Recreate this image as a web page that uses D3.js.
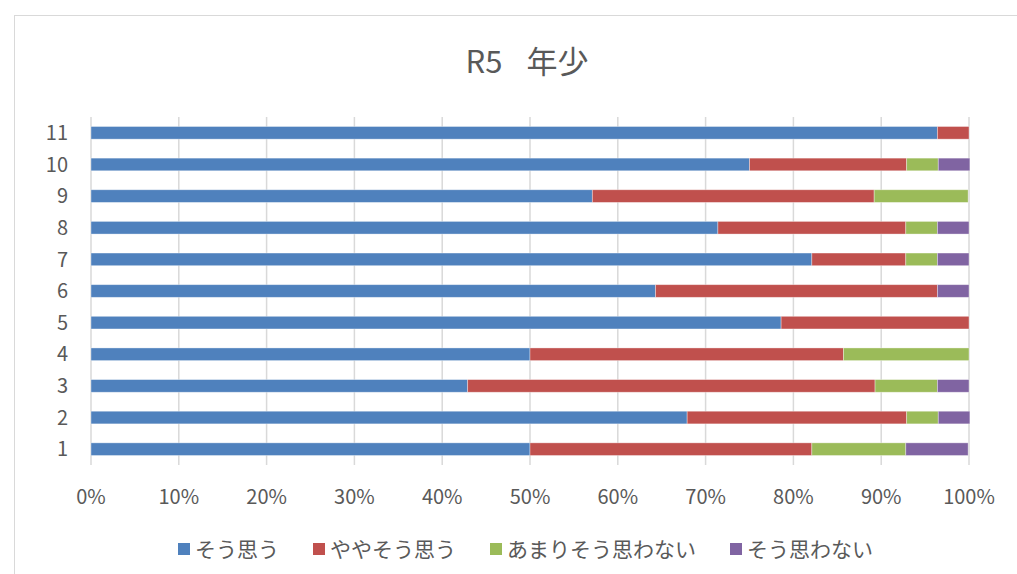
<!DOCTYPE html>
<html>
<head>
<meta charset="utf-8">
<script src="https://cdn.jsdelivr.net/npm/d3@7"></script>
<style>
  body { margin: 0; background: #fff; }
  svg { display: block; }
  text { font-family: "Noto Sans CJK JP", "Noto Sans", sans-serif; fill: #595959; }
</style>
</head>
<body>
<svg id="chart" width="1017" height="574"></svg>
<script>
// categories, bottom to top as in the picture
var categories = ['1', '2', '3', '4', '5', '6', '7', '8', '9', '10', '11'];
var seriesNames = ['そう思う', 'ややそう思う', 'あまりそう思わない', 'そう思わない'];
var colors = ['#4F81BD', '#C0504D', '#9BBB59', '#8064A2'];

// percentages per category (index matches categories)
var agree         = [50.0, 67.9, 42.9, 50.0, 78.6, 64.3, 82.1, 71.4, 57.1, 75.0, 96.4];
var somewhatAgree = [32.1, 25.0, 46.4, 35.7, 21.4, 32.1, 10.7, 21.4, 32.1, 17.9,  3.6];
var notMuch       = [10.7,  3.6,  7.1, 14.3,  0.0,  0.0,  3.6,  3.6, 10.7,  3.6,  0.0];
var disagree      = [ 7.1,  3.6,  3.6,  0.0,  0.0,  3.6,  3.6,  3.6,  0.0,  3.6,  0.0];
var xTicks = [0, 10, 20, 30, 40, 50, 60, 70, 80, 90, 100];

var svg = d3.select('#chart');

// outer chart frame (runs off the right / bottom edge)
svg.append('rect')
  .attr('x', 14.5).attr('y', 15.5)
  .attr('width', 1100).attr('height', 700)
  .attr('fill', 'none').attr('stroke', '#d9d9d9');

var title = svg.append('text')
  .attr('x', 527).attr('y', 73)
  .attr('text-anchor', 'middle')
  .style('font-size', '31px');
title.append('tspan').text('R5');
title.append('tspan').attr('dx', 24).text('年少');

var x = d3.scaleLinear().domain([0, 100]).range([91, 969]);
var y = d3.scaleBand()
  .domain(categories.slice().reverse())
  .range([117, 465])
  .paddingInner(0.6)
  .paddingOuter(0.3);

// gridlines
svg.append('g').selectAll('line')
  .data(xTicks)
  .enter().append('line')
    .attr('x1', (d) => x(d)).attr('x2', (d) => x(d))
    .attr('y1', 117).attr('y2', 465)
    .attr('stroke', '#d9d9d9').attr('stroke-width', 1.5);

var rows = categories.map((c, i) => ({
  cat: c,
  v: [agree[i], somewhatAgree[i], notMuch[i], disagree[i]]
}));
var stack = d3.stack().keys([0, 1, 2, 3]).value((d, k) => d.v[k]);
var layers = stack(rows);

svg.append('g').selectAll('g')
  .data(layers)
  .enter().append('g')
    .attr('fill', (d) => colors[d.key])
  .selectAll('rect')
  .data((d) => d)
  .enter().append('rect')
    .attr('x', (d) => x(d[0]))
    .attr('y', (d) => y(d.data.cat))
    .attr('width', (d) => Math.max(0, x(d[1]) - x(d[0])))
    .attr('height', y.bandwidth())
    .attr('stroke', (d) => d[1] - d[0] > 0 ? '#fff' : 'none')
    .attr('stroke-opacity', 0.45)
    .attr('stroke-width', 0.8);

// y labels
svg.append('g').selectAll('text')
  .data(categories)
  .enter().append('text')
    .attr('x', 68)
    .attr('y', (d) => y(d) + y.bandwidth() / 2)
    .attr('dy', '0.36em')
    .attr('text-anchor', 'end')
    .style('font-size', '20px')
    .text((d) => d);

// x labels
svg.append('g').selectAll('text')
  .data(xTicks)
  .enter().append('text')
    .attr('x', (d) => x(d))
    .attr('y', 504)
    .attr('text-anchor', 'middle')
    .style('font-size', '20px')
    .text((d) => d + '%');

// legend
var legend = svg.append('g');
var lx = 178;
seriesNames.forEach(function(name, i) {
  legend.append('rect')
    .attr('x', lx).attr('y', 543)
    .attr('width', 12).attr('height', 12)
    .attr('fill', colors[i]);
  var t = legend.append('text')
    .attr('x', lx + 17).attr('y', 557)
    .style('font-size', '21px')
    .text(name);
  lx += 17 + t.node().getComputedTextLength() + 34;
});
</script>
</body>
</html>
